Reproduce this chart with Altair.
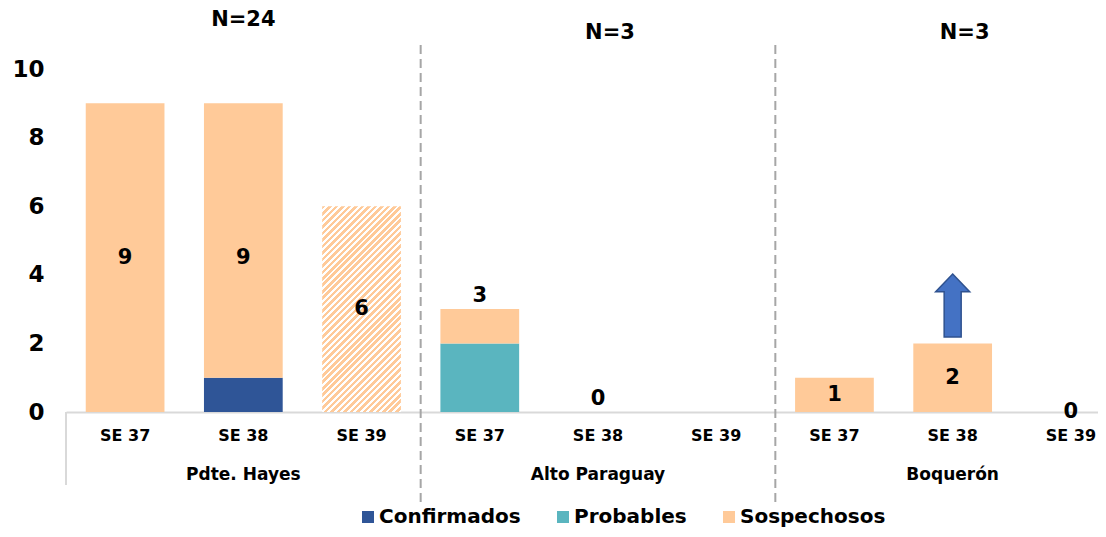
import altair as alt
import pandas as pd

# ---------------- data ----------------
regions = ["Pdte. Hayes", "Alto Paraguay", "Boquerón"]
region_n = ["N=24", "N=3", "N=3"]
weeks = ["SE 37", "SE 38", "SE 39"]
series = ["Confirmados", "Probables", "Sospechosos"]
series_colors = ["#2F5597", "#5AB5BF", "#FFCA99"]

confirmados = [0, 1, 0, 0, 0, 0, 0, 0, 0]
probables = [0, 0, 0, 2, 0, 0, 0, 0, 0]
sospechosos = [9, 8, 6, 1, 0, 0, 1, 2, 0]
hatched = [False, False, True, False, False, False, False, False, False]
bar_labels = ["9", "9", "6", "3", "0", "", "1", "2", "0"]
label_place = ["mid", "mid", "mid", "top", "top", "", "mid", "mid", "mid"]
arrow_at = ["Boquerón|SE 38"]

# ---------------- tables ----------------
cats = [f"{r}|{w}" for r in regions for w in weeks]
rows, hatch_rows, label_rows = [], [], []
for i, c in enumerate(cats):
    vals = [confirmados[i], probables[i], sospechosos[i]]
    for k, s in enumerate(series):
        if hatched[i] and s == "Sospechosos":
            hatch_rows.append({"cat": c, "y0": vals[0] + vals[1], "y1": sum(vals)})
        else:
            rows.append({"cat": c, "series": s, "value": vals[k], "order": k})
    if label_place[i]:
        tot = sum(vals)
        label_rows.append({"cat": c, "text": bar_labels[i], "place": label_place[i],
                           "ymid": tot / 2, "ytop": tot})
df = pd.DataFrame(rows)
df_hatch = pd.DataFrame(hatch_rows)
df_lab = pd.DataFrame(label_rows)
df_reg = pd.DataFrame({"cat": [f"{r}|SE 38" for r in regions], "text": regions, "n": region_n})
df_sep = pd.DataFrame({"cat": [f"{r}|SE 39" for r in regions[:-1]]})
df_arrow = pd.DataFrame({"cat": arrow_at})
df_one = pd.DataFrame({"k": [0]})

# ---------------- layout / style ----------------
FONT = "DejaVu Sans"
W_RANGE = 1064.0
H = 343
STEP = W_RANGE / len(cats)
PAD_IN = 0.334
BAR_W = STEP * (1 - PAD_IN)
UNIT = H / 10.0

x_scale = alt.Scale(domain=cats, range=[0, W_RANGE], paddingInner=PAD_IN, paddingOuter=PAD_IN / 2)
y_scale = alt.Scale(domain=[0, 10], nice=False)
x_axis = alt.Axis(title=None, orient="bottom", labelExpr="split(datum.label, '|')[1]", labelFont=FONT,
                  labelFontSize=16, labelFontWeight="bold", labelColor="black",
                  labelPadding=15, ticks=False, domainColor="#D9D9D9", domainWidth=2,
                  labelAngle=0, grid=False, labelOverlap=False)
y_axis = alt.Axis(title=None, values=[0, 2, 4, 6, 8, 10], domain=False, ticks=False, grid=False,
                  labelFont=FONT, labelFontSize=23, labelFontWeight="bold", labelColor="black",
                  labelPadding=22)
X = alt.X("cat:N", scale=x_scale, axis=x_axis, sort=cats)

# hatch pattern emulated with a striped linear gradient ("/" stripes at 45 deg)
hv = df_hatch["y1"].iloc[0] - df_hatch["y0"].iloc[0]
bw, bh = BAR_W, hv * UNIT
r = bw / bh
kk = (r + 1) / (r * r + 1)
period = 6.5
nstripes = int(round((bw + bh) / period))
frac = 0.55
stops = []
for i in range(nstripes):
    a = i / nstripes
    b = (i + frac) / nstripes
    e = (i + 1) / nstripes
    stops += [{"offset": a, "color": "#FFCA99"}, {"offset": b, "color": "#FFCA99"},
              {"offset": b, "color": "#FFFFFF"}, {"offset": e, "color": "#FFFFFF"}]
hatch_fill = alt.LinearGradient(gradient="linear", stops=stops, x1=0, y1=0, x2=r * kk, y2=kk)

# ---------------- layers ----------------
bars = alt.Chart(df).mark_bar().encode(
    x=X,
    y=alt.Y("value:Q", stack="zero", scale=y_scale, axis=y_axis),
    color=alt.Color("series:N", scale=alt.Scale(domain=series, range=series_colors),
                    legend=alt.Legend(orient="none", legendX=292, legendY=438, direction="horizontal",
                                      title=None, symbolType="square", symbolSize=144,
                                      symbolStrokeWidth=0, labelFont=FONT, labelFontSize=20,
                                      labelFontWeight="bold", labelColor="black",
                                      columnPadding=32, labelOffset=1, padding=0)),
    order=alt.Order("order:Q", sort="ascending"),
)

hatch = alt.Chart(df_hatch).mark_bar(fill=hatch_fill).encode(
    x=X, y=alt.Y("y0:Q", scale=y_scale), y2="y1:Q"
)

lab_mid = alt.Chart(df_lab).transform_filter("datum.place == 'mid'").mark_text(
    font=FONT, fontSize=21, fontWeight="bold", color="black", baseline="middle"
).encode(x=X, y=alt.Y("ymid:Q", scale=y_scale), text="text:N")

lab_top = alt.Chart(df_lab).transform_filter("datum.place == 'top'").mark_text(
    font=FONT, fontSize=21, fontWeight="bold", color="black", baseline="bottom", dy=-3
).encode(x=X, y=alt.Y("ytop:Q", scale=y_scale), text="text:N")

arrow_path = "M0,-1 L0.54,-0.44 L0.27,-0.44 L0.27,1 L-0.27,1 L-0.27,-0.44 L-0.54,-0.44 Z"
arrow = alt.Chart(df_arrow).mark_point(
    shape=arrow_path, size=63 * 63, filled=True, fill="#4472C4", stroke="#2F528F",
    strokeWidth=1.5, opacity=1
).encode(x=X, y=alt.value(236.5))

seps = alt.Chart(df_sep).mark_rule(
    xOffset=STEP / 2, strokeDash=[9, 5], color="#A6A6A6", strokeWidth=2
).encode(x=X, y=alt.value(-24), y2=alt.value(436))

left_line = alt.Chart(df_one).mark_rule(color="#D9D9D9", strokeWidth=2).encode(
    x=alt.value(0), y=alt.value(343), y2=alt.value(416)
)

reg_labels = alt.Chart(df_reg).mark_text(
    font=FONT, fontSize=17, fontWeight="bold", color="black", baseline="middle"
).encode(x=X, y=alt.value(406), text="text:N")

n_first = alt.Chart(df_reg.iloc[:1]).mark_text(
    font=FONT, fontSize=21, fontWeight="bold", color="black", baseline="middle"
).encode(x=X, y=alt.value(-49), text="n:N")

n_rest = alt.Chart(df_reg.iloc[1:]).mark_text(
    font=FONT, fontSize=21, fontWeight="bold", color="black", baseline="middle", dx=12
).encode(x=X, y=alt.value(-36), text="n:N")

chart = alt.layer(
    bars, hatch, seps, left_line, lab_mid, lab_top, arrow, reg_labels, n_first, n_rest
).properties(
    width=1032, height=H,
    padding={"left": 58, "top": 61, "right": 0, "bottom": 117},
    autosize=alt.AutoSizeParams(type="none"),
).configure_view(stroke=None)

chart.save("out.html", embed_options={"renderer": "svg", "actions": False})
